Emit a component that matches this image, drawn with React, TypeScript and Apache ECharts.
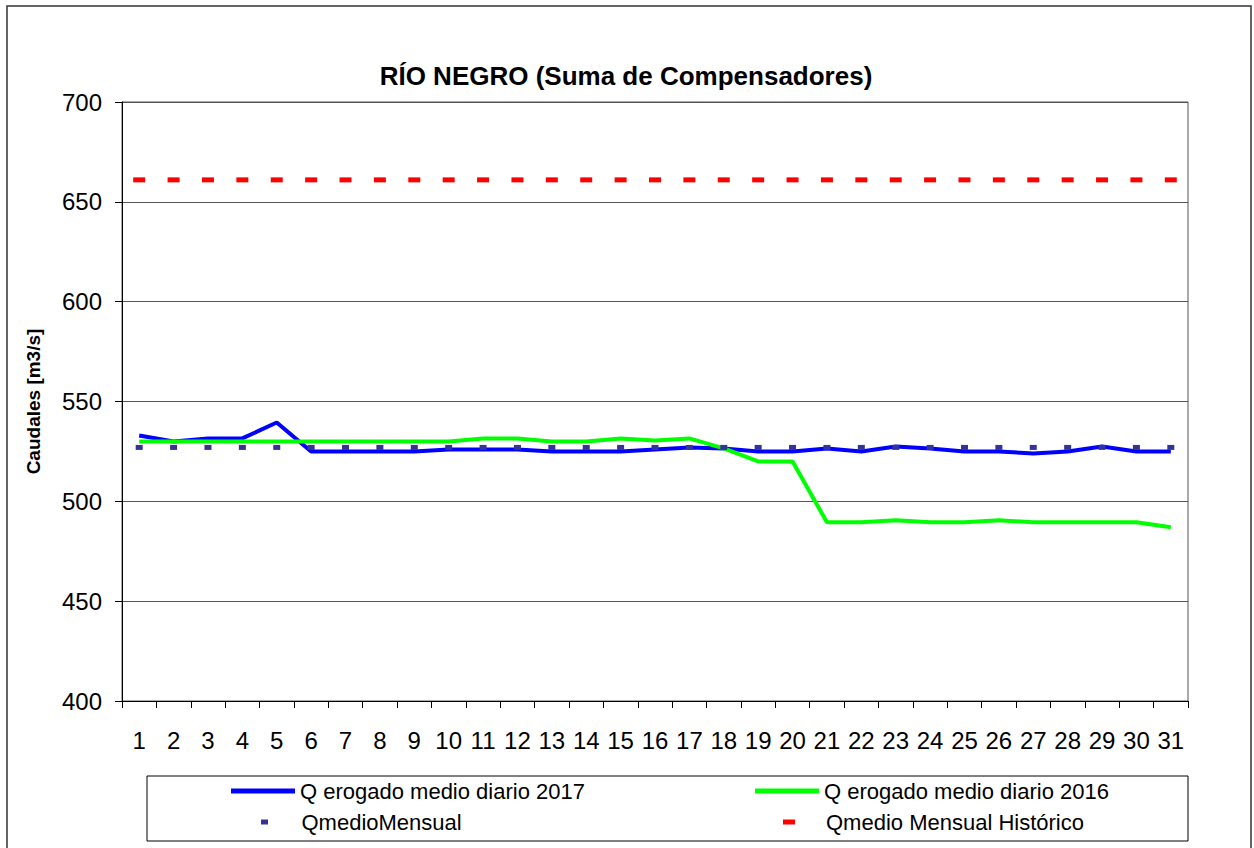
import React, { useEffect, useRef } from "react";
import * as echarts from "echarts";

const days = ["1","2","3","4","5","6","7","8","9","10","11","12","13","14","15","16","17","18","19","20","21","22","23","24","25","26","27","28","29","30","31"];
const q2017 = [533, 530, 531.5, 531.5, 539.5, 525, 525, 525, 525, 526, 526, 526, 525, 525, 525, 526, 527, 526.5, 525, 525, 526.5, 525, 527.5, 526.5, 525, 525, 524, 525, 527.5, 525, 525];
const q2016 = [530, 530, 530, 530, 530, 530, 530, 530, 530, 530, 531.5, 531.5, 530, 530, 531.5, 530.5, 531.5, 526.5, 520, 520, 489.5, 489.5, 490.5, 489.5, 489.5, 490.5, 489.5, 489.5, 489.5, 489.5, 487];
const qMedioMensual = [527, 527, 527, 527, 527, 527, 527, 527, 527, 527, 527, 527, 527, 527, 527, 527, 527, 527, 527, 527, 527, 527, 527, 527, 527, 527, 527, 527, 527, 527, 527];
const qMedioHistorico = [661, 661, 661, 661, 661, 661, 661, 661, 661, 661, 661, 661, 661, 661, 661, 661, 661, 661, 661, 661, 661, 661, 661, 661, 661, 661, 661, 661, 661, 661, 661];

const names = [
  "Q erogado medio diario 2017",
  "Q erogado medio diario 2016",
  "QmedioMensual",
  "Qmedio Mensual Histórico",
];
const titleText = "RÍO NEGRO (Suma de Compensadores)";
const yName = "Caudales [m3/s]";

const FONT = "'Liberation Sans', Arial, sans-serif";

export default function App() {
  const ref = useRef<HTMLDivElement>(null);
  useEffect(() => {
    if (!ref.current) return;
    const chart = echarts.init(ref.current, null, { renderer: "svg" });
    const legendBase = {
      padding: 0,
      itemWidth: 64,
      itemHeight: 5,
      selectedMode: false,
      textStyle: { fontSize: 22, fontFamily: FONT, color: "#000" },
    };
    chart.setOption({
      animation: false,
      backgroundColor: "#fff",
      title: {
        text: titleText,
        left: 621,
        top: 58,
        textAlign: "center",
        textStyle: { fontSize: 26, fontWeight: "bold", fontFamily: FONT, color: "#000" },
      },
      grid: {
        left: 122,
        top: 102,
        right: 66,
        bottom: 147,
        show: true,
        borderColor: "#555",
        borderWidth: 1,
        backgroundColor: "transparent",
      },
      legend: [
        { ...legendBase, left: 231, top: 780, data: [{ name: names[0], icon: "rect" }] },
        { ...legendBase, left: 755, top: 780, data: [{ name: names[1], icon: "rect" }] },
        { ...legendBase, left: 261, top: 811, data: [{ name: names[2], icon: "path://M0,0h7v5h-7z" }] },
        { ...legendBase, left: 783, top: 811, data: [{ name: names[3], icon: "path://M0,0h12v5h-12z" }] },
      ],
      xAxis: {
        type: "category",
        data: days,
        boundaryGap: true,
        axisLine: { show: true, lineStyle: { color: "#000", width: 1 } },
        axisTick: { show: true, length: 7, lineStyle: { color: "#000" } },
        axisLabel: { fontSize: 24, fontFamily: FONT, color: "#000", margin: 27, interval: 0 },
        splitLine: { show: false },
      },
      yAxis: {
        type: "value",
        min: 400,
        max: 700,
        interval: 50,
        name: yName,
        nameLocation: "middle",
        nameRotate: 90,
        nameGap: 79,
        nameTextStyle: { fontSize: 19, fontWeight: "bold", fontFamily: FONT, color: "#000" },
        axisLine: { show: true, lineStyle: { color: "#000", width: 1 } },
        axisTick: { show: true, length: 7, lineStyle: { color: "#000" } },
        axisLabel: { fontSize: 24, fontFamily: FONT, color: "#000", margin: 20 },
        splitLine: { show: true, lineStyle: { color: "#555", width: 1 } },
      },
      series: [
        {
          name: names[0],
          type: "line",
          data: q2017,
          showSymbol: false,
          symbol: "none",
          itemStyle: { color: "#0000ff" },
          lineStyle: { color: "#0000ff", width: 4 },
          z: 2,
        },
        {
          name: names[1],
          type: "line",
          data: q2016,
          showSymbol: false,
          symbol: "none",
          itemStyle: { color: "#00ff00" },
          lineStyle: { color: "#00ff00", width: 4 },
          z: 3,
        },
        {
          name: names[2],
          type: "line",
          data: qMedioMensual,
          symbol: "rect",
          symbolSize: [7, 5],
          showSymbol: true,
          itemStyle: { color: "#333399" },
          lineStyle: { width: 0, opacity: 0 },
          z: 4,
        },
        {
          name: names[3],
          type: "line",
          data: qMedioHistorico,
          symbol: "rect",
          symbolSize: [12, 5],
          showSymbol: true,
          itemStyle: { color: "#ff0000" },
          lineStyle: { width: 0, opacity: 0 },
          z: 4,
        },
      ],
      graphic: [
        {
          type: "rect",
          shape: { x: 7, y: 6, width: 1244, height: 900 },
          style: { fill: "none", stroke: "#333", lineWidth: 1.5 },
          silent: true,
        },
        {
          type: "rect",
          shape: { x: 147, y: 776, width: 1041, height: 65 },
          style: { fill: "none", stroke: "#000", lineWidth: 1 },
          silent: true,
        },
      ],
    });
    return () => chart.dispose();
  }, []);
  return (
    <div
      ref={ref}
      style={{ position: "fixed", left: 0, top: 0, width: 1254, height: 848 }}
    />
  );
}
